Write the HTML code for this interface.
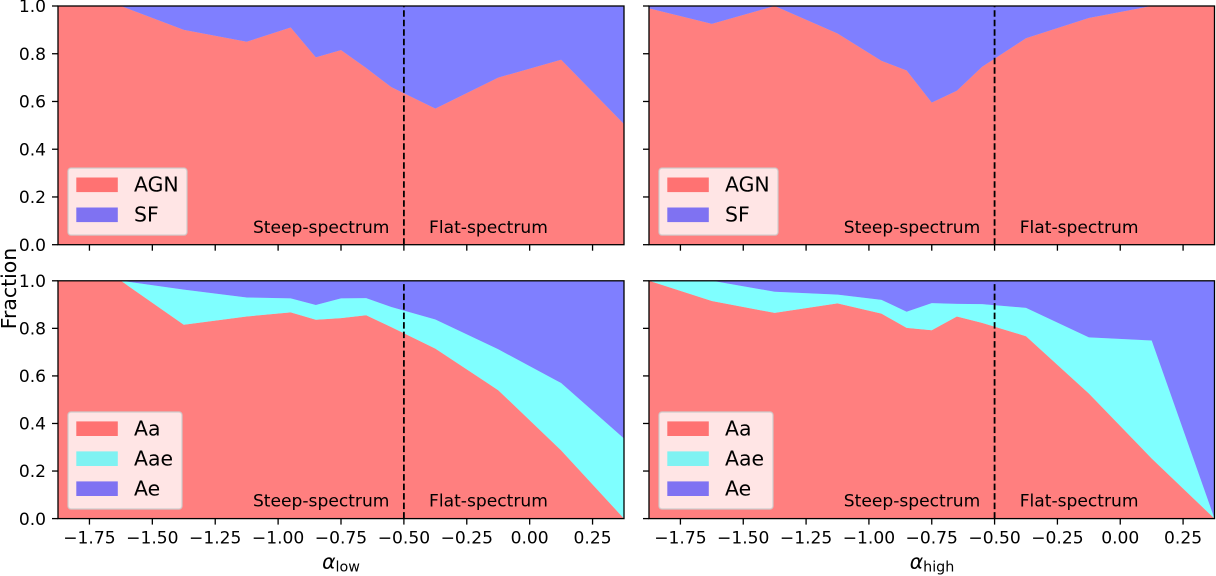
<!DOCTYPE html>
<html>
<head>
<meta charset="utf-8">
<title>Spectral index fractions</title>
<style>
html,body{margin:0;padding:0;background:#fff;width:1216px;height:576px;overflow:hidden}
svg{display:block}
text{font-family:"DejaVu Sans","Liberation Sans",sans-serif;fill:#000}
</style>
</head>
<body>
<svg id="figure" xmlns="http://www.w3.org/2000/svg" width="1216" height="576" viewBox="0 0 1216 576"></svg>
<script>
// Bin positions shared by all panels
const alphaBins = [-1.875,-1.625,-1.375,-1.125,-0.95,-0.85,-0.75,-0.65,-0.55,-0.375,-0.125,0.125,0.375];
// Top-left: alpha_low, AGN / SF
const lowAgn = [1,1,0.9,0.85,0.91,0.785,0.815,0.74,0.66,0.57,0.70,0.775,0.505];
const lowSf = [0,0,0.1,0.15,0.09,0.215,0.185,0.26,0.34,0.43,0.30,0.225,0.495];
// Top-right: alpha_high, AGN / SF
const highAgn = [0.99,0.925,1,0.885,0.77,0.73,0.595,0.645,0.745,0.865,0.95,1,1];
const highSf = [0.01,0.075,0,0.115,0.23,0.27,0.405,0.355,0.255,0.135,0.05,0,0];
// Bottom-left: alpha_low, Aa / Aae / Ae
const lowAa = [1,1,0.815,0.85,0.867,0.836,0.843,0.855,0.805,0.715,0.54,0.287,0];
const lowAae = [0,0,0.148,0.08,0.059,0.062,0.083,0.072,0.085,0.122,0.172,0.283,0.337];
const lowAe = [0,0,0.037,0.07,0.074,0.102,0.074,0.073,0.11,0.163,0.288,0.43,0.663];
// Bottom-right: alpha_high, Aa / Aae / Ae
const highAa = [1,0.915,0.865,0.905,0.862,0.802,0.792,0.85,0.823,0.767,0.526,0.253,0];
const highAae = [0,0.085,0.089,0.037,0.058,0.068,0.114,0.053,0.079,0.119,0.236,0.496,0];
const highAe = [0,0,0.046,0.058,0.08,0.13,0.094,0.097,0.098,0.114,0.238,0.251,1];
// Axis ticks
const xTicks = [-1.75,-1.5,-1.25,-1,-0.75,-0.5,-0.25,0,0.25];
const xTickLabels = ["\u22121.75","\u22121.50","\u22121.25","\u22121.00","\u22120.75","\u22120.50","\u22120.25","0.00","0.25"];
const yTicks = [0,0.2,0.4,0.6,0.8,1];
const yTickLabels = ["0.0","0.2","0.4","0.6","0.8","1.0"];
const splitValue = -0.5;

const NS = "http://www.w3.org/2000/svg";
const fig = document.getElementById("figure");
const RED = "rgba(255,0,0,0.5)", BLUE = "rgba(0,0,255,0.5)", CYAN = "rgba(0,255,255,0.5)";

function mk(parent, tag, attrs, txt){
  const el = document.createElementNS(NS, tag);
  for (const k in attrs) el.setAttribute(k, attrs[k]);
  if (txt !== undefined) el.textContent = txt;
  parent.appendChild(el);
  return el;
}

function drawPanel(cfg){
  const g = mk(fig, "g", {});
  
  
  const X = v => cfg.left + (v - (-1.875)) / 2.25 * (cfg.right - cfg.left);
  const Y = v => cfg.bottom - v * (cfg.bottom - cfg.top);

  // stacked areas
  const base = alphaBins.map(() => 0);
  cfg.series.forEach(s => {
    const lower = base.slice();
    s.values.forEach((v, i) => { base[i] += v; });
    const upperPts = alphaBins.map((x, i) => X(x).toFixed(2) + "," + Y(base[i]).toFixed(2));
    const lowerPts = alphaBins.map((x, i) => X(x).toFixed(2) + "," + Y(lower[i]).toFixed(2)).reverse();
    const area = mk(g, "polygon", {points: upperPts.concat(lowerPts).join(" "), fill: s.color});
    
    
  });

  // split line
  const split = mk(g, "line", {x1: X(splitValue), x2: X(splitValue), y1: cfg.bottom, y2: cfg.top, stroke: "#000", "stroke-width": 1.8, "stroke-dasharray": "6.5 3"});
  
  

  // region labels
  const steep = mk(g, "text", {x: X(-1.1), y: cfg.bottom - 0.05 * (cfg.bottom - cfg.top), "font-size": 17.1}, "Steep-spectrum");
  
  
  const flat = mk(g, "text", {x: X(-0.4), y: cfg.bottom - 0.05 * (cfg.bottom - cfg.top), "font-size": 17.1}, "Flat-spectrum");
  
  

  // ticks
  xTicks.forEach((t, i) => {
    const tick = mk(g, "line", {x1: X(t), x2: X(t), y1: cfg.bottom, y2: cfg.bottom + 6, stroke: "#000", "stroke-width": 1.3});
    
    
    if (cfg.showX) {
      const lab = mk(g, "text", {x: X(t), y: cfg.bottom + 25, "font-size": 17.1, "text-anchor": "middle"}, xTickLabels[i]);
      
      
    }
  });
  yTicks.forEach((t, i) => {
    const tick = mk(g, "line", {x1: cfg.left - 6, x2: cfg.left, y1: Y(t), y2: Y(t), stroke: "#000", "stroke-width": 1.3});
    
    
    if (cfg.showY) {
      const lab = mk(g, "text", {x: cfg.left - 12, y: Y(t) + 6.2, "font-size": 17.1, "text-anchor": "end"}, yTickLabels[i]);
      
      
    }
  });

  // spines
  const frame = mk(g, "rect", {x: cfg.left, y: cfg.top, width: cfg.right - cfg.left, height: cfg.bottom - cfg.top, fill: "none", stroke: "#000", "stroke-width": 1.3});
  
  

  // legend
  const lx = cfg.left + 10, rows = cfg.series.length;
  const lh = rows === 2 ? 67 : 97;
  const ly = cfg.bottom - 9.6 - lh;
  const lg = mk(g, "g", {});
  
  
  const box = mk(lg, "rect", {x: lx, y: ly, width: cfg.legendW, height: lh, rx: 3, ry: 3, fill: "rgba(255,255,255,0.8)", stroke: "rgba(204,204,204,0.8)", "stroke-width": 1.4});
  
  
  cfg.series.forEach((s, i) => {
    const py = ly + 9.4 + i * 30;
    const patch = mk(lg, "rect", {x: lx + 8.3, y: py, width: 41.5, height: 14.6, fill: s.color});
    
    
    const lab = mk(lg, "text", {x: lx + 66, y: py + 14.2, "font-size": 20.4}, s.label);
    
    
  });
}

const L1 = 58, R1 = 624, L2 = 649, R2 = 1214.5;
const T1 = 6, B1 = 244.7, T2 = 280.8, B2 = 518.6;

drawPanel({name: "agn-sf-low-panel", left: L1, right: R1, top: T1, bottom: B1, showX: false, showY: true, legendW: 119,
  series: [{label: "AGN", values: lowAgn, color: RED}, {label: "SF", values: lowSf, color: BLUE}]});
drawPanel({name: "agn-sf-high-panel", left: L2, right: R2, top: T1, bottom: B1, showX: false, showY: false, legendW: 119,
  series: [{label: "AGN", values: highAgn, color: RED}, {label: "SF", values: highSf, color: BLUE}]});
drawPanel({name: "excitation-low-panel", left: L1, right: R1, top: T2, bottom: B2, showX: true, showY: true, legendW: 114,
  series: [{label: "Aa", values: lowAa, color: RED}, {label: "Aae", values: lowAae, color: CYAN}, {label: "Ae", values: lowAe, color: BLUE}]});
drawPanel({name: "excitation-high-panel", left: L2, right: R2, top: T2, bottom: B2, showX: true, showY: false, legendW: 114,
  series: [{label: "Aa", values: highAa, color: RED}, {label: "Aae", values: highAae, color: CYAN}, {label: "Ae", values: highAe, color: BLUE}]});

// axis titles
const yTitle = mk(fig, "text", {transform: "translate(16,288.5) rotate(-90)", "font-size": 20.4, "text-anchor": "middle"}, "Fraction");



const xTitleLow = mk(fig, "text", {x: 341, y: 568.3, "text-anchor": "middle"});


mk(xTitleLow, "tspan", {"font-size": 20.4, "font-style": "italic"}, "\u03b1");
mk(xTitleLow, "tspan", {"font-size": 14.3, dy: 3.4}, "low");

const xTitleHigh = mk(fig, "text", {x: 932, y: 568.3, "text-anchor": "middle"});


mk(xTitleHigh, "tspan", {"font-size": 20.4, "font-style": "italic"}, "\u03b1");
mk(xTitleHigh, "tspan", {"font-size": 14.3, dy: 3.4}, "high");
</script>
</body>
</html>
